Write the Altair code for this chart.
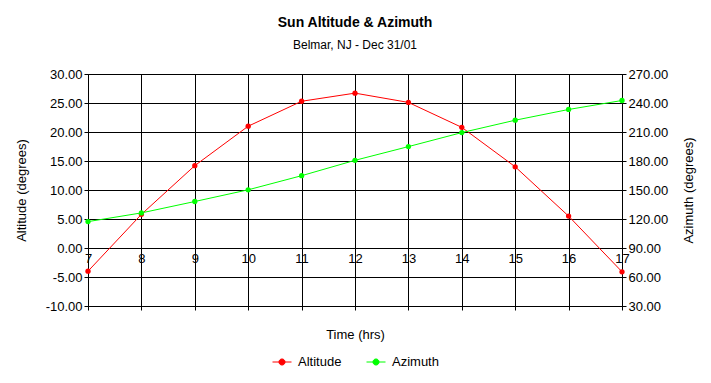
import altair as alt
import pandas as pd

hours = [7, 8, 9, 10, 11, 12, 13, 14, 15, 16, 17]
altitude = [-4.0, 5.8, 14.2, 21.0, 25.3, 26.7, 25.1, 20.8, 14.0, 5.5, -4.1]
azimuth = [117.3, 126.3, 138.1, 150.2, 164.8, 180.7, 194.9, 209.4, 222.2, 233.3, 242.6]
alt_ticks = [-10, -5, 0, 5, 10, 15, 20, 25, 30]
az_ticks = [30, 60, 90, 120, 150, 180, 210, 240, 270]
series_names = ["Altitude", "Azimuth"]
series_colors = ["#FF0000", "#00FF00"]

df = pd.DataFrame({"hour": hours, "altitude": altitude, "azimuth": azimuth})

FONT = "Liberation Sans, Arial, sans-serif"
W, H = 534, 232

xscale = alt.Scale(domain=[7, 17], nice=False, zero=False)
color_scale = alt.Scale(domain=series_names, range=series_colors)
legend_symbol = "M-1,0L1,0M-0.32,0A0.32,0.32,0,1,1,0.32,0A0.32,0.32,0,1,1,-0.32,0Z"
minus_fix = "replace(datum.label, '\u2212', '-')"

base = alt.Chart(df)

alt_layer = base.transform_calculate(series="'Altitude'").mark_line(
    strokeWidth=1, point=alt.OverlayMarkDef(filled=True, size=28, opacity=1)
).encode(
    x=alt.X("hour:Q", scale=xscale,
            axis=alt.Axis(values=hours, format="d", title=None, offset=-58,
                          orient="bottom",
                          ticks=False, labelPadding=4, grid=True,
                          gridColor="black", gridOpacity=1, gridWidth=1,
                          domainColor="black", labelFontSize=13,
                          labelColor="black", labelFont=FONT, labelFlush=False)),
    y=alt.Y("altitude:Q", scale=alt.Scale(domain=[-10, 30], nice=False, zero=False),
            axis=alt.Axis(values=alt_ticks, format=".2f", labelExpr=minus_fix,
                          title="Altitude (degrees)",
                          orient="left", grid=True, gridColor="black", gridOpacity=1,
                          tickColor="black", tickSize=4, labelPadding=2,
                          domain=False, labelFontSize=13, labelColor="black",
                          labelFont=FONT, titleFont=FONT, titleFontSize=13,
                          titleFontWeight="normal", titleColor="black",
                          titlePadding=17)),
    color=alt.Color("series:N", scale=color_scale,
                    legend=alt.Legend(title=None, orient="none", legendX=184,
                                      legendY=278, direction="horizontal",
                                      symbolType=legend_symbol, symbolSize=361,
                                      symbolStrokeWidth=1, labelFontSize=13,
                                      labelFont=FONT, labelColor="black",
                                      labelOffset=6, columnPadding=22)),
)

az_layer = base.transform_calculate(series="'Azimuth'").mark_line(
    strokeWidth=1, point=alt.OverlayMarkDef(filled=True, size=28, opacity=1)
).encode(
    x=alt.X("hour:Q", scale=xscale,
            axis=alt.Axis(values=hours, labels=False, title="Time (hrs)",
                          orient="bottom",
                          grid=False, domain=False, ticks=True, tickSize=4,
                          tickColor="black", titleFont=FONT, titleFontSize=13,
                          titleFontWeight="normal", titleColor="black",
                          titlePadding=18)),
    y=alt.Y("azimuth:Q", scale=alt.Scale(domain=[30, 270], nice=False, zero=False),
            axis=alt.Axis(values=az_ticks, format=".2f", title="Azimuth (degrees)",
                          orient="right", grid=False, tickColor="black",
                          tickSize=4, labelPadding=2, domainColor="black",
                          labelFontSize=13, labelColor="black", labelFont=FONT,
                          titleFont=FONT, titleFontSize=13, titleFontWeight="normal",
                          titleColor="black", titleAngle=270, titlePadding=28)),
    color=alt.Color("series:N", scale=color_scale),
)

chart = alt.layer(alt_layer, az_layer).resolve_scale(
    y="independent"
).resolve_axis(x="independent").properties(
    width=W, height=H,
    title=alt.TitleParams("Sun Altitude & Azimuth",
                          subtitle="Belmar, NJ - Dec 31/01",
                          font=FONT, fontSize=14, fontWeight="bold", color="black",
                          subtitleFont=FONT, subtitleFontSize=12,
                          subtitleColor="black", anchor="middle", frame="group",
                          offset=17, subtitlePadding=10),
    autosize=alt.AutoSizeParams(type="none"),
    padding={"left": 80, "top": 66, "right": 81, "bottom": 69},
    background="white",
).configure_view(stroke="black", strokeWidth=1)

chart.save("out.html", embed_options={"renderer": "svg", "actions": False})
